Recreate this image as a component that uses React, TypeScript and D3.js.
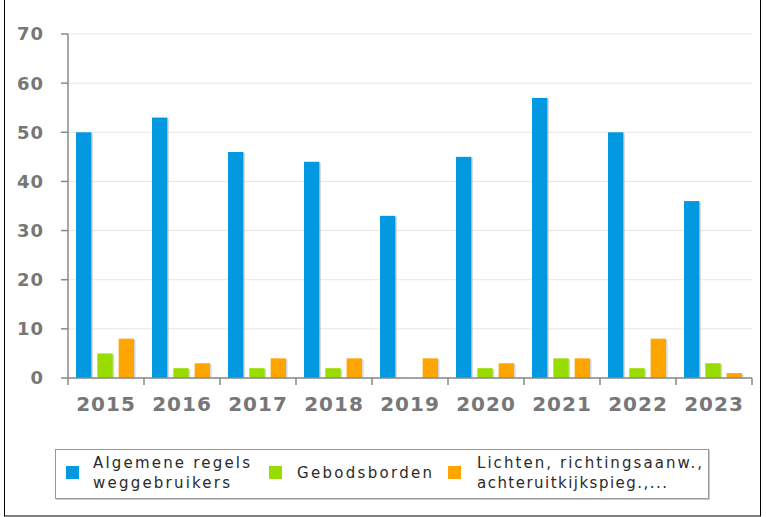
import React from 'react';
import * as d3 from 'd3';

const years = ['2015', '2016', '2017', '2018', '2019', '2020', '2021', '2022', '2023'];
const algemeneRegels = [50, 53, 46, 44, 33, 45, 57, 50, 36];
const gebodsborden = [5, 2, 2, 2, 0, 2, 4, 2, 3];
const lichten = [8, 3, 4, 4, 4, 3, 4, 8, 1];
const yTicks = [0, 10, 20, 30, 40, 50, 60, 70];

const seriesNames = [
  ['Algemene regels', 'weggebruikers'],
  ['Gebodsborden'],
  ['Lichten, richtingsaanw.,', 'achteruitkijkspieg.,...'],
];
// measured text widths of the legend lines
const legendWidths = [[157, 137], [135], [225, 190]];
const seriesColors = ['#0399e0', '#99dd00', '#ffa500'];

const W = 766;
const H = 517;
const m = { left: 68, right: 14, top: 34, bottom: 139 };

export default function App() {
  const series = [algemeneRegels, gebodsborden, lichten];

  const x = d3.scaleBand<string>().domain(years).range([m.left, W - m.right]).paddingInner(0).paddingOuter(0);
  const y = d3.scaleLinear().domain([0, 70]).range([H - m.bottom, m.top]);
  const inner = d3
    .scaleBand<number>()
    .domain([0, 1, 2])
    .range([8, x.bandwidth() - 10])
    .paddingInner(0.28);

  const font = 'DejaVu Sans, Verdana, sans-serif';
  const y0 = y(0);

  return (
    <div style={{ position: 'absolute', left: 0, top: 0 }}>
      <svg width={W} height={H} style={{ display: 'block' }}>
        <rect x={0} y={0} width={W} height={H} fill="#fff" />
        <rect x={4.5} y={-2} width={756} height={518} fill="none" stroke="#000" strokeWidth={1} />

        {/* gridlines */}
        {yTicks.map((t) => (
          <line key={'g' + t} x1={m.left} x2={W - m.right} y1={y(t)} y2={y(t)} stroke="#e6e6e6" strokeWidth={1} />
        ))}

        {/* bars */}
        {series.map((vals, si) =>
          vals.map((v, i) => {
            if (v <= 0) return null;
            const bx = (x(years[i]) as number) + (inner(si) as number);
            const bw = inner.bandwidth();
            const by = y(v);
            return (
              <g key={si + '-' + i}>
                <rect x={bx + 1.5} y={by + 1} width={bw} height={y0 - by - 1} fill="#888" opacity={0.35} />
                <rect x={bx} y={by} width={bw} height={y0 - by} fill={seriesColors[si]} />
              </g>
            );
          })
        )}

        {/* y axis */}
        <line x1={m.left} x2={m.left} y1={m.top} y2={y0} stroke="#888" strokeWidth={1.5} />
        {yTicks.map((t) => (
          <g key={'y' + t}>
            <line x1={m.left - 7} x2={m.left} y1={y(t)} y2={y(t)} stroke="#888" strokeWidth={1.5} />
            <text
              x={44}
              y={y(t)}
              dy="0.36em"
              textAnchor="end"
              fontFamily={font}
              fontWeight="bold"
              fontSize={18}
              letterSpacing={1}
              fill="#777"
            >
              {t}
            </text>
          </g>
        ))}

        {/* x axis */}
        <line x1={m.left} x2={W - m.right} y1={y0} y2={y0} stroke="#888" strokeWidth={1.5} />
        {[...years.map((yr) => x(yr) as number), W - m.right].map((px, i) => (
          <line key={'xt' + i} x1={px} x2={px} y1={y0} y2={y0 + 7} stroke="#888" strokeWidth={1.5} />
        ))}
        {years.map((yr) => (
          <text
            key={'xl' + yr}
            x={(x(yr) as number) + x.bandwidth() / 2}
            y={411}
            textAnchor="middle"
            fontFamily={font}
            fontWeight="bold"
            fontSize={20}
            letterSpacing={1}
            fill="#777"
          >
            {yr}
          </text>
        ))}

        {/* legend */}
        <rect x={56.5} y={450.5} width={653} height={49} fill="none" stroke="#ccc" strokeWidth={1} />
        <rect x={55.5} y={449.5} width={653} height={49} fill="#fff" stroke="#999" strokeWidth={1} />
        {[
          { sx: 66, tx: 93 },
          { sx: 269, tx: 297 },
          { sx: 448, tx: 477 },
        ].map((p, si) => (
          <g key={'lg' + si}>
            <rect x={p.sx} y={466} width={13} height={13} fill={seriesColors[si]} />
            {seriesNames[si].map((ln, li) => (
              <text
                key={li}
                x={p.tx}
                y={seriesNames[si].length === 1 ? 478 : 468 + li * 20}
                fontFamily={font}
                fontSize={15}
                textLength={legendWidths[si][li]}
                lengthAdjust="spacing"
                fill="#2a2a2a"
              >
                {ln}
              </text>
            ))}
          </g>
        ))}
      </svg>
    </div>
  );
}
